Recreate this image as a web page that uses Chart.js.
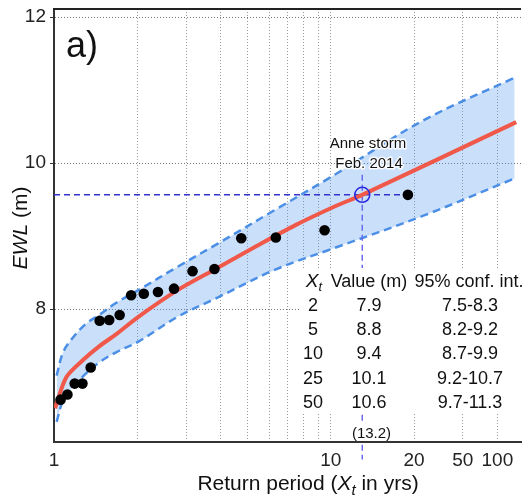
<!DOCTYPE html>
<html>
<head>
<meta charset="utf-8">
<script src="https://cdn.jsdelivr.net/npm/chart.js@4.4.1/dist/chart.umd.min.js"></script>
<style>
html, body { margin: 0; padding: 0; background: #fff; }
</style>
</head>
<body>
<canvas id="ewlChart" width="530" height="496"></canvas>
<script>
// observed annual maxima (return period in yrs, EWL in m)
const obsT = [1.056, 1.118, 1.188, 1.267, 1.357, 1.462, 1.583, 1.727, 1.9, 2.111, 2.375, 2.714, 3.167, 3.8, 4.75, 6.333, 9.5, 19];
const obsEWL = [6.76, 6.83, 6.98, 6.98, 7.2, 7.84, 7.85, 7.92, 8.19, 8.21, 8.235, 8.28, 8.52, 8.55, 8.97, 8.98, 9.08, 9.565];

// fitted curve
const fitT = [1.008, 1.109, 1.27, 1.456, 1.669, 2.018, 2.797, 3.879, 5.377, 7.455, 10.33, 12.99, 46.8];
const fitEWL = [6.64, 7.07, 7.30, 7.49, 7.65, 7.895, 8.26, 8.56, 8.86, 9.15, 9.405, 9.565, 10.56];

// 95% confidence band
const bandT = [1.022, 1.079, 1.171, 1.306, 1.456, 1.669, 2.018, 2.797, 3.879, 6.33, 10.33, 21.5, 46.2];
const bandUpper = [7.09, 7.41, 7.61, 7.80, 7.92, 8.08, 8.26, 8.58, 8.89, 9.365, 9.84, 10.58, 11.17];
const bandLower = [6.457, 6.752, 6.933, 7.12, 7.27, 7.405, 7.555, 7.895, 8.154, 8.544, 8.838, 9.276, 9.79];

// Anne storm, Feb. 2014
const stormT = 13.0;
const stormEWL = 9.565;

// axis ticks
const xGridVals = [1, 2, 3, 4, 5, 6, 7, 8, 9, 10, 20, 30, 40];
const xTickVals = [1, 10, 20, 30, 40];
const xTickLabels = ['1', '10', '20', '50', '100'];
const yTickVals = [8, 10, 12];

// return level table
const tableXt = ['2', '5', '10', '25', '50'];
const tableValue = ['7.9', '8.8', '9.4', '10.1', '10.6'];
const tableCI = ['7.5-8.3', '8.2-9.2', '8.7-9.9', '9.2-10.7', '9.7-11.3'];

const FONT = "'Liberation Sans', Arial, sans-serif";

const pts = (xs, ys) => xs.map((x, i) => ({ x: x, y: ys[i] }));

function drawRich(ctx, parts, x, y) {
  let w = 0;
  parts.forEach(p => { ctx.font = p.font; w += ctx.measureText(p.text).width; });
  let cx = x - w / 2;
  parts.forEach(p => {
    ctx.font = p.font;
    ctx.fillText(p.text, cx, y + (p.dy || 0));
    cx += ctx.measureText(p.text).width;
  });
}

function noPad(s) {
  s.paddingTop = 0;
  s.paddingBottom = 0;
  s.paddingLeft = 0;
  s.paddingRight = 0;
}

const textLayer = {
  id: 'textLayer',
  afterDraw(chart) {
    const ctx = chart.ctx;
    const area = chart.chartArea;
    ctx.save();

    // top frame
    ctx.strokeStyle = '#222';
    ctx.lineWidth = 2;
    ctx.beginPath();
    ctx.moveTo(area.left - 1, area.top);
    ctx.lineTo(area.right, area.top);
    ctx.stroke();

    ctx.fillStyle = '#111';
    ctx.textBaseline = 'alphabetic';
    ctx.textAlign = 'left';

    ctx.font = '36px ' + FONT;
    ctx.fillText('a)', 66, 57);

    // storm label
    ctx.font = '15px ' + FONT;
    ctx.textAlign = 'center';
    ctx.strokeStyle = 'rgba(255,255,255,0.9)';
    ctx.lineWidth = 3;
    ctx.lineJoin = 'round';
    ctx.strokeText('Anne storm', 368, 148);
    ctx.fillText('Anne storm', 368, 148);
    ctx.strokeText('Feb. 2014', 369, 168);
    ctx.fillText('Feb. 2014', 369, 168);

    // table
    ctx.fillStyle = '#fff';
    ctx.fillRect(301, 268, 226, 145);
    ctx.fillStyle = '#111';
    ctx.textAlign = 'left';
    drawRich(ctx, [
      { text: 'X', font: 'italic 19px ' + FONT },
      { text: 't', font: 'italic 13px ' + FONT, dy: 4 }
    ], 314, 286.5);
    ctx.textAlign = 'center';
    ctx.font = '18px ' + FONT;
    ctx.fillText('Value (m)', 369, 286.5);
    ctx.fillText('95% conf. int.', 469, 286.5);
    tableXt.forEach((t, i) => {
      const by = 311 + i * 24.2;
      ctx.fillText(t, 313, by);
      ctx.fillText(tableValue[i], 369, by);
      ctx.fillText(tableCI[i], 470, by);
    });

    // storm return period label
    ctx.font = '15px ' + FONT;
    const lw = ctx.measureText('(13.2)').width;
    ctx.fillStyle = '#fff';
    ctx.fillRect(371.5 - lw / 2 - 1, 424, lw + 2, 17);
    ctx.fillStyle = '#111';
    ctx.fillText('(13.2)', 371.5, 438);

    // axis titles
    ctx.textAlign = 'left';
    drawRich(ctx, [
      { text: 'Return period (', font: '21px ' + FONT },
      { text: 'X', font: 'italic 21px ' + FONT },
      { text: 't', font: 'italic 15px ' + FONT, dy: 5 },
      { text: ' in yrs)', font: '21px ' + FONT }
    ], 308, 490);

    ctx.translate(27, 228);
    ctx.rotate(-Math.PI / 2);
    drawRich(ctx, [
      { text: 'EWL', font: 'italic 21px ' + FONT },
      { text: ' (m)', font: '21px ' + FONT }
    ], 0, 0);

    ctx.restore();
  }
};

const ctx = document.getElementById('ewlChart').getContext('2d');
const ewlChart = new Chart(ctx, {
  type: 'line',
  data: {
    datasets: [
      {
        data: pts(bandT, bandUpper),
        borderColor: '#4b8ee6',
        borderWidth: 2.5,
        borderDash: [8, 5],
        backgroundColor: 'rgba(80,150,240,0.3)',
        fill: '+1',
        pointRadius: 0,
        tension: 0.35,
        order: 5
      },
      {
        data: pts(bandT, bandLower),
        borderColor: '#4b8ee6',
        borderWidth: 2.5,
        borderDash: [8, 5],
        fill: false,
        pointRadius: 0,
        tension: 0.35,
        order: 5
      },
      {
        data: pts(fitT, fitEWL),
        borderColor: '#f0584a',
        borderWidth: 4,
        fill: false,
        pointRadius: 0,
        tension: 0.3,
        order: 3
      },
      {
        data: [{ x: 1, y: stormEWL }, { x: 19, y: stormEWL }],
        borderColor: '#3434cc',
        borderWidth: 1.5,
        borderDash: [6, 4],
        pointRadius: 0,
        fill: false,
        order: 4
      },
      {
        data: [{ x: stormT, y: 9.84 }, { x: stormT, y: 5.94 }],
        borderColor: '#6a6aee',
        borderWidth: 1.5,
        borderDash: [6, 4],
        pointRadius: 0,
        fill: false,
        clip: false,
        order: 4
      },
      {
        data: [{ x: stormT, y: stormEWL }],
        showLine: false,
        pointRadius: 7.5,
        pointBorderWidth: 1.5,
        pointBorderColor: '#2a2ae0',
        pointBackgroundColor: 'rgba(0,0,0,0)',
        order: 2
      },
      {
        data: pts(obsT, obsEWL),
        showLine: false,
        pointRadius: 5.3,
        pointBorderWidth: 0,
        pointBackgroundColor: '#000',
        pointBorderColor: '#000',
        order: 1
      }
    ]
  },
  options: {
    responsive: false,
    animation: false,
    layout: { padding: { top: 6, right: 0, left: 0, bottom: 0 } },
    plugins: {
      legend: { display: false },
      tooltip: { enabled: false }
    },
    scales: {
      x: {
        type: 'logarithmic',
        min: 1,
        max: 48.7,
        afterBuildTicks: s => { s.ticks = xGridVals.map(v => ({ value: v })); },
        afterFit: s => { s.height = 54; noPad(s); },
        ticks: {
          autoSkip: false,
          maxRotation: 0,
          padding: 7,
          color: '#222',
          font: { family: FONT, size: 19 },
          callback: v => {
            const i = xTickVals.indexOf(v);
            return i >= 0 ? xTickLabels[i] : '';
          }
        },
        grid: { color: '#9a9a9a', lineWidth: 1, drawTicks: false },
        border: { color: '#333', width: 2, dash: [1, 2] }
      },
      y: {
        min: 6.18,
        max: 12.11,
        afterBuildTicks: s => { s.ticks = yTickVals.map(v => ({ value: v })); },
        afterFit: s => { s.width = 54; noPad(s); },
        ticks: {
          padding: 4,
          color: '#222',
          font: { family: FONT, size: 19 }
        },
        grid: { color: '#777', lineWidth: 1, drawTicks: true, tickLength: 4, tickColor: '#333' },
        border: { color: '#333', width: 2, dash: [1, 2] }
      }
    }
  },
  plugins: [textLayer]
});
</script>
</body>
</html>
